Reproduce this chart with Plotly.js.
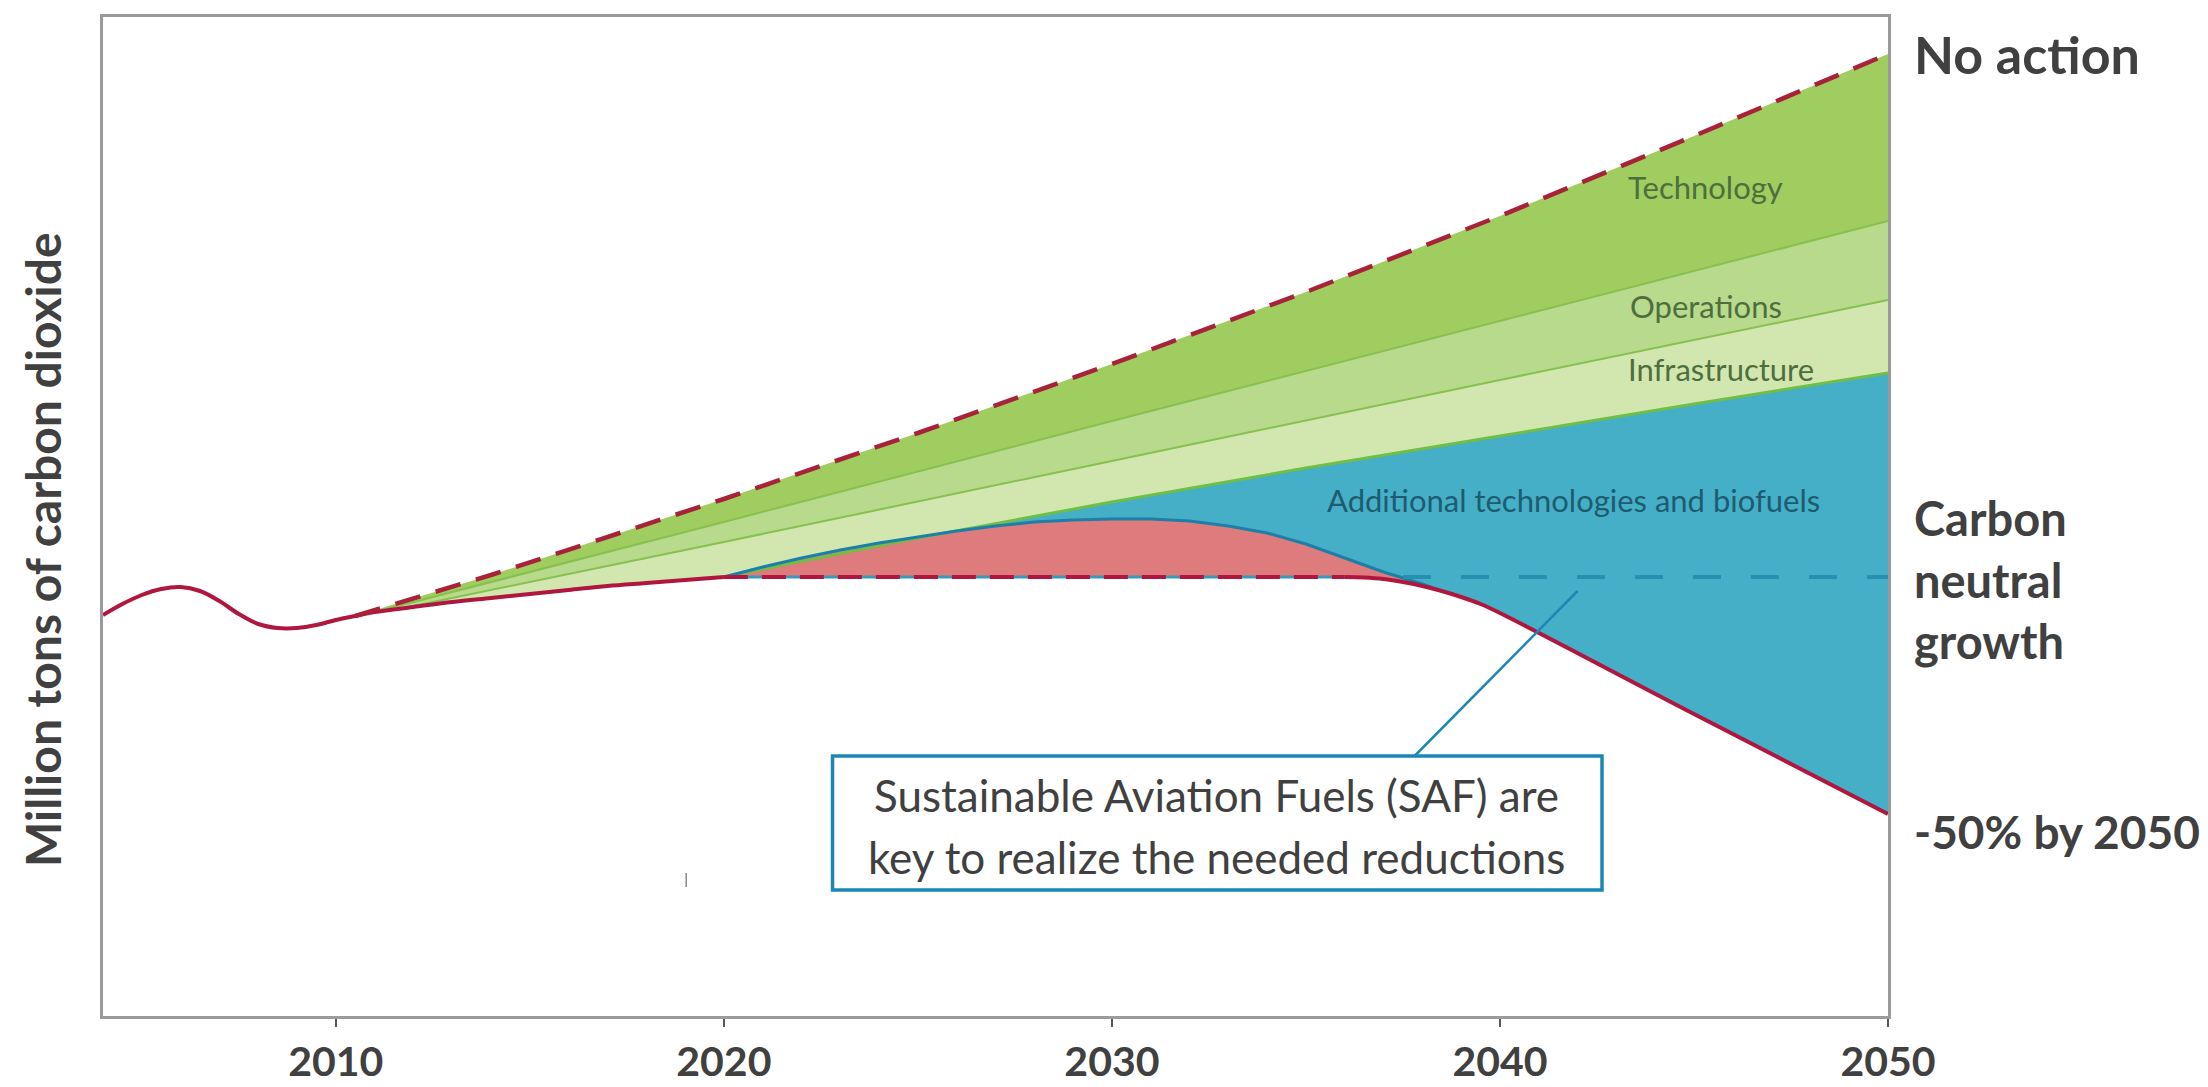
<!DOCTYPE html>
<html>
<head>
<meta charset="utf-8">
<script src="https://cdn.plot.ly/plotly-3.0.1.min.js"></script>
<style>
  html, body { margin: 0; padding: 0; background: #ffffff; }
  #chart { width: 2208px; height: 1087px; }
</style>
</head>
<body>
<div id="chart"></div>
<script>
// ---------- data (index units) ----------
const tickYears = [2010, 2020, 2030, 2040, 2050];
const tickLabels = ["2010", "2020", "2030", "2040", "2050"];

const historyYears  = [2004, 2004.5, 2005, 2005.5, 2006, 2006.5, 2007, 2007.5, 2008, 2008.5, 2009, 2009.5, 2010, 2010.5, 2011, 2012, 2013, 2014, 2015, 2016, 2017, 2018, 2019, 2020];
const historyValues = [401, 412, 421, 427, 429, 425, 415, 402, 392, 388, 388, 391, 396, 400, 404, 409, 414, 418, 422, 426, 430, 433, 436, 439];

const noActionYears  = [2010.5, 2014, 2020, 2025, 2030, 2035, 2040, 2045, 2050];
const noActionValues = [400, 441, 517, 583, 652, 724, 800, 880, 962];

const technologyYears  = [2011, 2020, 2030, 2040, 2050];
const technologyValues = [404, 494, 595, 695, 795];

const operationsYears  = [2011.5, 2020, 2030, 2040, 2050];
const operationsValues = [406, 474, 555, 636, 716];

const infrastructureYears  = [2020, 2025, 2030, 2035, 2040, 2045, 2050];
const infrastructureValues = [439, 478, 514, 548, 580, 612, 643];

const humpYears  = [2020, 2021, 2022, 2023, 2024, 2025, 2026, 2027, 2028, 2029, 2030, 2031, 2032, 2033, 2034, 2035, 2036, 2037, 2038, 2038.5];
const humpValues = [439, 449, 458, 466, 473, 479, 485, 490, 494, 496, 497, 497, 495, 490, 483, 472, 458, 444, 432, 425];

const pathwayYears  = [2036, 2036.5, 2037, 2037.5, 2038, 2038.5, 2039, 2039.5, 2040, 2045, 2050];
const pathwayValues = [439, 438.5, 437, 434, 430, 425, 419, 412, 403, 302, 202];

const neutralLevel = 439;
const neutralRedYears  = [2020, 2036];
const neutralTealYears = [2037.5, 2050];

// ---------- helpers ----------
function pick(xs, ys, lo, hi) {
  const px = [], py = [];
  for (let i = 0; i < xs.length; i++) {
    if (xs[i] >= lo - 1e-9 && xs[i] <= hi + 1e-9) { px.push(xs[i]); py.push(ys[i]); }
  }
  return { x: px, y: py };
}
function rev(a) { return a.slice().reverse(); }
function poly(parts) {
  let x = [], y = [];
  parts.forEach(p => { x = x.concat(p.x); y = y.concat(p.y); });
  return { x, y };
}
function area(p, color) {
  return { x: p.x, y: p.y, type: 'scatter', mode: 'lines', fill: 'toself',
           fillcolor: color, line: { width: 0 }, hoverinfo: 'skip' };
}
function line(x, y, color, width, dash, shape) {
  return { x, y, type: 'scatter', mode: 'lines', hoverinfo: 'skip',
           line: { color, width, dash: dash || 'solid', shape: shape || 'linear', smoothing: 1 } };
}

// ---------- polygons ----------
const tStart = technologyYears[0], oStart = operationsYears[0], nStart = noActionYears[0];
const humpEnd = humpYears[humpYears.length - 1];

const techPoly = poly([
  { x: noActionYears, y: noActionValues },
  { x: rev(technologyYears), y: rev(technologyValues) },
  (() => { const h = pick(historyYears, historyValues, nStart, tStart); return { x: rev(h.x), y: rev(h.y) }; })()
]);
const opsPoly = poly([
  { x: technologyYears, y: technologyValues },
  { x: rev(operationsYears), y: rev(operationsValues) },
  (() => { const h = pick(historyYears, historyValues, tStart, oStart); return { x: rev(h.x), y: rev(h.y) }; })()
]);
const infraPoly = poly([
  { x: operationsYears, y: operationsValues },
  { x: rev(infrastructureYears), y: rev(infrastructureValues) },
  (() => { const h = pick(historyYears, historyValues, oStart, 2020); return { x: rev(h.x), y: rev(h.y) }; })()
]);
const bluePoly = poly([
  { x: infrastructureYears, y: infrastructureValues },
  (() => { const p = pick(pathwayYears, pathwayValues, humpEnd, 2050); return { x: rev(p.x), y: rev(p.y) }; })(),
  { x: rev(humpYears), y: rev(humpValues) }
]);
const pinkPoly = poly([
  { x: humpYears, y: humpValues },
  (() => { const p = pick(pathwayYears, pathwayValues, pathwayYears[0], humpEnd); return { x: rev(p.x), y: rev(p.y) }; })(),
  { x: [neutralRedYears[0]], y: [neutralLevel] }
]);

const RED = '#b0173f';
const traces = [
  area(techPoly, '#9fcd60'),
  area(opsPoly, '#b8da8d'),
  area(infraPoly, '#d2e7af'),
  area(bluePoly, '#45afc7'),
  area(pinkPoly, '#de7b7c'),
  line(technologyYears, technologyValues, '#87c04f', 2),
  line(operationsYears, operationsValues, '#87c04f', 2),
  line(infrastructureYears, infrastructureValues, '#6fbe45', 3),
  line(humpYears, humpValues, '#1d7fa8', 3),
  line(neutralRedYears, neutralRedYears.map(() => neutralLevel), '#3a98b8', 3),
  line(neutralRedYears, neutralRedYears.map(() => neutralLevel), RED, 4, '24px,14px'),
  line(neutralTealYears, neutralTealYears.map(() => neutralLevel), '#2690b0', 4, '28px,30px'),
  line(historyYears, historyValues, RED, 4, 'solid', 'spline'),
  line(pathwayYears, pathwayValues, RED, 4, 'solid', 'spline'),
  line(noActionYears, noActionValues, '#a8233a', 4.5, '26px,16px')
];

const TXT = '#404040';
const green = '#4f6e3e';
const annotations = [
  { x: 2045.3, y: 829, xref: 'x', yref: 'y', text: 'Technology', showarrow: false, font: { family: 'Lato', size: 31, color: green } },
  { x: 2045.3, y: 710, xref: 'x', yref: 'y', text: 'Operations', showarrow: false, font: { family: 'Lato', size: 31, color: green } },
  { x: 2045.7, y: 647, xref: 'x', yref: 'y', text: 'Infrastructure', showarrow: false, font: { family: 'Lato', size: 31, color: green } },
  { x: 2041.9, y: 516, xref: 'x', yref: 'y', text: 'Additional technologies and biofuels', showarrow: false, font: { family: 'Lato', size: 31, color: '#1d5c70' } },
  { x: 2032.7, y: 221, xref: 'x', yref: 'y', text: 'Sustainable Aviation Fuels (SAF) are', showarrow: false, font: { family: 'Lato', size: 44, color: TXT } },
  { x: 2032.7, y: 159, xref: 'x', yref: 'y', text: 'key to realize the needed reductions', showarrow: false, font: { family: 'Lato', size: 44, color: TXT } },
  { x: 1.0134, y: 962, xref: 'paper', yref: 'y', xanchor: 'left', text: 'No action', showarrow: false, font: { family: 'Lato', size: 52, color: TXT, weight: 700 } },
  { x: 1.0134, y: 498, xref: 'paper', yref: 'y', xanchor: 'left', text: 'Carbon', showarrow: false, font: { family: 'Lato', size: 47, color: TXT, weight: 700 } },
  { x: 1.0134, y: 436, xref: 'paper', yref: 'y', xanchor: 'left', text: 'neutral', showarrow: false, font: { family: 'Lato', size: 47, color: TXT, weight: 700 } },
  { x: 1.0134, y: 375, xref: 'paper', yref: 'y', xanchor: 'left', text: 'growth', showarrow: false, font: { family: 'Lato', size: 47, color: TXT, weight: 700 } },
  { x: 1.0134, y: 185, xref: 'paper', yref: 'y', xanchor: 'left', text: '-50% by 2050', showarrow: false, font: { family: 'Lato', size: 46, color: TXT, weight: 700 } },
  { x: -0.0342, y: 467, xref: 'paper', yref: 'y', xanchor: 'center', yanchor: 'middle', textangle: -90, text: 'Million tons of carbon dioxide', showarrow: false, font: { family: 'Lato', size: 48, color: TXT, weight: 700 } }
];

const shapes = [
  { type: 'line', xref: 'x', yref: 'y', x0: 2037.8, y0: 260, x1: 2042.0, y1: 425, line: { color: '#1a87b5', width: 2.5 } },
  { type: 'rect', xref: 'x', yref: 'y', x0: 2022.8, y0: 126, x1: 2042.63, y1: 260, fillcolor: '#ffffff', line: { color: '#1a87b5', width: 3.5 } },
  { type: 'line', xref: 'x', yref: 'y', x0: 2019.03, y0: 143, x1: 2019.03, y1: 129, line: { color: '#888888', width: 1.5 } }
];

const layout = {
  width: 2208, height: 1087,
  margin: { l: 103, r: 320, t: 17, b: 71, pad: 0 },
  paper_bgcolor: '#ffffff', plot_bgcolor: '#ffffff',
  showlegend: false, hovermode: false,
  xaxis: {
    range: [2004, 2050], tickvals: tickYears, ticktext: tickLabels,
    ticks: 'outside', ticklen: 8, tickwidth: 2, tickcolor: '#555555',
    ticklabelstandoff: 0,
    tickfont: { family: 'Lato', size: 41, color: TXT, weight: 700 },
    showgrid: false, zeroline: false, showline: true, mirror: true,
    linecolor: '#9a9a9a', linewidth: 3
  },
  yaxis: {
    range: [0, 999], showticklabels: false, ticks: '',
    showgrid: false, zeroline: false, showline: true, mirror: true,
    linecolor: '#9a9a9a', linewidth: 3
  },
  annotations, shapes
};

Plotly.newPlot('chart', traces, layout, { staticPlot: true, displayModeBar: false });
</script>
</body>
</html>
